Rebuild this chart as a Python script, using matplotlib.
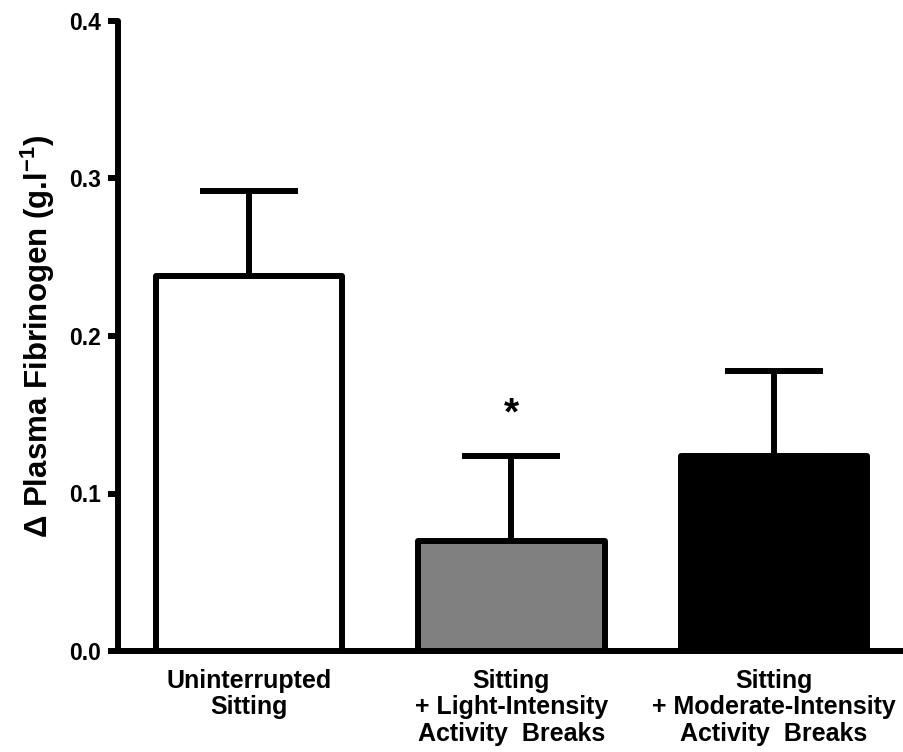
import numpy as np
import matplotlib.pyplot as plt

plt.rcParams['font.family'] = ['Liberation Sans', 'DejaVu Sans']
plt.rcParams['font.weight'] = 'bold'
plt.rcParams['mathtext.fontset'] = 'custom'
plt.rcParams['mathtext.rm'] = 'Liberation Sans:bold'
plt.rcParams['mathtext.bf'] = 'Liberation Sans:bold'

conditions = ['Uninterrupted\nSitting',
              'Sitting\n+ Light-Intensity\nActivity  Breaks',
              'Sitting\n+ Moderate-Intensity\nActivity  Breaks']
means = [0.238, 0.070, 0.124]
sem = [0.054, 0.054, 0.054]
fills = ['white', '#808080', 'black']
significant = [False, True, False]

lw = 4.3
x = np.arange(len(conditions))

fig = plt.figure(figsize=(9.04, 7.52), dpi=100)
ax = fig.add_axes([0.1305, 0.1343, 0.8706, 0.8378])

# one-sided error bars sit behind the bars so only the upper half shows
ax.errorbar(x, means, yerr=[np.zeros(len(means)), sem], fmt='none', ecolor='black',
            elinewidth=lw, capsize=35, capthick=lw, zorder=1)
ax.bar(x, means, width=0.71, color=fills, edgecolor='black', linewidth=lw,
       joinstyle='round', zorder=2)

for xi, m, e, sig in zip(x, means, sem, significant):
    if sig:
        ax.text(xi, m + e + 0.026, '*', ha='center', va='center', fontsize=28,
                fontweight='bold')

ax.set_xlim(-0.5, 2.5)
ax.set_ylim(0, 0.4)
ax.set_yticks([0.0, 0.1, 0.2, 0.3, 0.4])
ax.set_yticklabels(['0.0', '0.1', '0.2', '0.3', '0.4'])
ax.set_xticks(x)
ax.set_xticklabels(conditions, fontsize=18, linespacing=1.12)
ax.tick_params(axis='x', length=0, pad=13)
ax.tick_params(axis='y', length=7, width=lw, pad=5, labelsize=16.5)

ax.set_ylabel('Δ Plasma Fibrinogen (g.l$^{-1}$)', fontsize=22.5,
              fontweight='bold', labelpad=9)

for side in ['top', 'right']:
    ax.spines[side].set_visible(False)
for side in ['left', 'bottom']:
    ax.spines[side].set_linewidth(lw)
    ax.spines[side].set_capstyle('round')

fig.savefig('out.png', dpi=100)
